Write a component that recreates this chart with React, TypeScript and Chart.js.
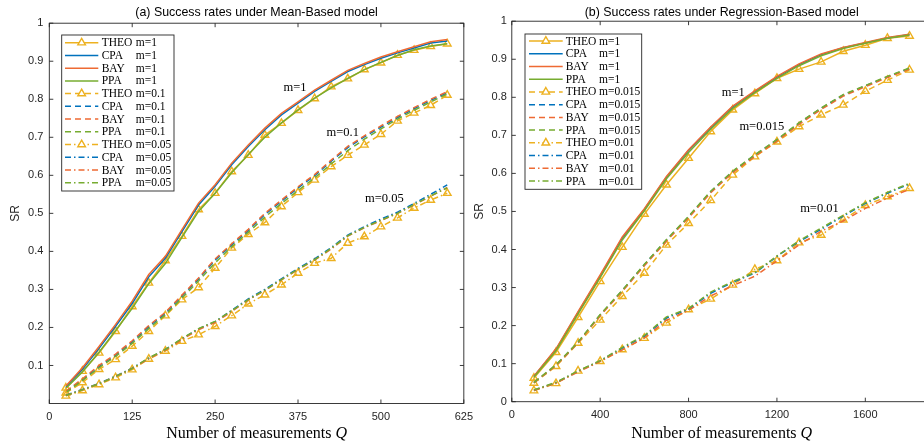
import React, { useEffect, useRef } from 'react';
import { Chart, registerables } from 'chart.js';
Chart.register(...registerables);

// ---------- data ----------
const leftQ = [25, 50, 75, 100, 125, 150, 175, 200, 225, 250, 275, 300, 325, 350, 375, 400, 425, 450, 475, 500, 525, 550, 575, 600];
const L1_THEO = [0.041, 0.085, 0.133, 0.19, 0.255, 0.317, 0.376, 0.44, 0.51, 0.553, 0.61, 0.653, 0.706, 0.737, 0.771, 0.802, 0.833, 0.854, 0.878, 0.896, 0.916, 0.929, 0.939, 0.946];
const L1_CPA = [0.044, 0.09, 0.145, 0.203, 0.263, 0.333, 0.382, 0.452, 0.522, 0.571, 0.628, 0.676, 0.72, 0.759, 0.79, 0.821, 0.847, 0.873, 0.891, 0.908, 0.922, 0.935, 0.948, 0.953];
const L1_BAY = [0.046, 0.094, 0.15, 0.208, 0.269, 0.339, 0.387, 0.457, 0.527, 0.575, 0.632, 0.68, 0.724, 0.763, 0.793, 0.824, 0.85, 0.876, 0.894, 0.911, 0.925, 0.938, 0.951, 0.957];
const L1_PPA = [0.04, 0.083, 0.135, 0.192, 0.25, 0.315, 0.368, 0.437, 0.505, 0.553, 0.607, 0.655, 0.7, 0.738, 0.772, 0.803, 0.83, 0.855, 0.878, 0.897, 0.915, 0.93, 0.94, 0.946];
const L01_THEO = [0.028, 0.055, 0.09, 0.116, 0.151, 0.19, 0.231, 0.273, 0.305, 0.356, 0.409, 0.445, 0.476, 0.518, 0.555, 0.588, 0.623, 0.653, 0.68, 0.708, 0.743, 0.764, 0.784, 0.811];
const L01_CPA = [0.03, 0.062, 0.097, 0.127, 0.162, 0.202, 0.237, 0.282, 0.327, 0.377, 0.417, 0.455, 0.497, 0.532, 0.567, 0.599, 0.637, 0.673, 0.701, 0.727, 0.752, 0.775, 0.797, 0.817];
const L01_BAY = [0.032, 0.065, 0.1, 0.13, 0.165, 0.205, 0.24, 0.285, 0.33, 0.38, 0.42, 0.458, 0.5, 0.535, 0.57, 0.602, 0.64, 0.676, 0.704, 0.73, 0.755, 0.778, 0.8, 0.82];
const L01_PPA = [0.029, 0.06, 0.094, 0.124, 0.158, 0.197, 0.233, 0.277, 0.322, 0.37, 0.412, 0.45, 0.49, 0.526, 0.56, 0.593, 0.63, 0.665, 0.695, 0.722, 0.748, 0.771, 0.793, 0.814];
const L005_THEO = [0.02, 0.034, 0.05, 0.068, 0.089, 0.117, 0.138, 0.164, 0.181, 0.203, 0.231, 0.262, 0.286, 0.312, 0.343, 0.369, 0.382, 0.422, 0.439, 0.465, 0.488, 0.514, 0.535, 0.553];
const L005_CPA = [0.022, 0.037, 0.053, 0.072, 0.093, 0.119, 0.142, 0.17, 0.196, 0.215, 0.245, 0.275, 0.3, 0.328, 0.355, 0.38, 0.41, 0.443, 0.465, 0.485, 0.503, 0.526, 0.55, 0.575];
const L005_BAY = [0.021, 0.036, 0.052, 0.071, 0.092, 0.118, 0.14, 0.168, 0.194, 0.213, 0.242, 0.272, 0.297, 0.325, 0.352, 0.377, 0.406, 0.44, 0.462, 0.481, 0.5, 0.522, 0.545, 0.568];
const L005_PPA = [0.021, 0.036, 0.052, 0.071, 0.092, 0.12, 0.142, 0.171, 0.197, 0.216, 0.244, 0.273, 0.298, 0.326, 0.353, 0.378, 0.408, 0.441, 0.463, 0.482, 0.5, 0.523, 0.546, 0.567];

const rightQ = [100, 200, 300, 400, 500, 600, 700, 800, 900, 1000, 1100, 1200, 1300, 1400, 1500, 1600, 1700, 1800];
const R1_THEO = [0.062, 0.13, 0.222, 0.316, 0.406, 0.493, 0.57, 0.64, 0.71, 0.767, 0.81, 0.85, 0.874, 0.893, 0.921, 0.937, 0.955, 0.961];
const R1_CPA = [0.066, 0.137, 0.235, 0.33, 0.43, 0.505, 0.59, 0.66, 0.72, 0.775, 0.815, 0.853, 0.886, 0.912, 0.93, 0.943, 0.956, 0.965];
const R1_BAY = [0.067, 0.139, 0.237, 0.333, 0.433, 0.507, 0.592, 0.662, 0.722, 0.777, 0.817, 0.855, 0.888, 0.914, 0.931, 0.944, 0.957, 0.966];
const R1_PPA = [0.064, 0.134, 0.231, 0.326, 0.425, 0.502, 0.586, 0.655, 0.716, 0.771, 0.812, 0.85, 0.883, 0.909, 0.928, 0.942, 0.955, 0.964];
const R015_THEO = [0.049, 0.093, 0.154, 0.215, 0.277, 0.338, 0.412, 0.469, 0.529, 0.596, 0.644, 0.683, 0.723, 0.754, 0.78, 0.816, 0.845, 0.872];
const R015_CPA = [0.05, 0.096, 0.156, 0.228, 0.292, 0.36, 0.425, 0.486, 0.552, 0.605, 0.648, 0.688, 0.732, 0.771, 0.806, 0.83, 0.854, 0.876];
const R015_BAY = [0.05, 0.095, 0.155, 0.226, 0.29, 0.357, 0.422, 0.483, 0.549, 0.602, 0.645, 0.685, 0.729, 0.768, 0.803, 0.828, 0.852, 0.874];
const R015_PPA = [0.051, 0.097, 0.157, 0.229, 0.293, 0.361, 0.426, 0.487, 0.553, 0.606, 0.649, 0.689, 0.733, 0.772, 0.807, 0.831, 0.855, 0.877];
const R01_THEO = [0.029, 0.048, 0.081, 0.106, 0.137, 0.167, 0.207, 0.242, 0.27, 0.307, 0.348, 0.371, 0.418, 0.438, 0.478, 0.516, 0.539, 0.561];
const R01_CPA = [0.03, 0.05, 0.08, 0.107, 0.141, 0.172, 0.22, 0.243, 0.285, 0.314, 0.338, 0.382, 0.421, 0.453, 0.488, 0.521, 0.548, 0.572];
const R01_BAY = [0.03, 0.049, 0.078, 0.106, 0.136, 0.168, 0.214, 0.24, 0.278, 0.305, 0.33, 0.37, 0.412, 0.448, 0.475, 0.508, 0.535, 0.558];
const R01_PPA = [0.031, 0.051, 0.081, 0.108, 0.143, 0.174, 0.223, 0.245, 0.288, 0.316, 0.34, 0.383, 0.423, 0.456, 0.49, 0.523, 0.55, 0.574];

const leftXTicks = [0, 125, 250, 375, 500, 625];
const leftYTicks = [0.1, 0.2, 0.3, 0.4, 0.5, 0.6, 0.7, 0.8, 0.9, 1];
const rightXTicks = [0, 400, 800, 1200, 1600];
const rightYTicks = [0, 0.1, 0.2, 0.3, 0.4, 0.5, 0.6, 0.7, 0.8, 0.9, 1];

const leftTitle = '(a) Success rates under Mean-Based model';
const rightTitle = '(b) Success rates under Regression-Based model';
const xTitle = 'Number of measurements ';
const xTitleVar = 'Q';
const yTitle = 'SR';
const methods = ['THEO', 'CPA', 'BAY', 'PPA'];
const leftMs = ['1', '0.1', '0.05'];
const rightMs = ['1', '0.015', '0.01'];
const leftAnnot = [
  { text: 'm=1', q: 353, v: 0.831 },
  { text: 'm=0.1', q: 418, v: 0.713 },
  { text: 'm=0.05', q: 476, v: 0.538 },
];
const rightAnnot = [
  { text: 'm=1', q: 950, v: 0.813 },
  { text: 'm=0.015', q: 1030, v: 0.723 },
  { text: 'm=0.01', q: 1305, v: 0.506 },
];

// ---------- styles ----------
const COLORS: Record<string, string> = { THEO: '#EDB120', CPA: '#0072BD', BAY: '#EE6A33', PPA: '#77AC30' };
const DASHES = [[], [6, 4], [6, 3, 1.5, 3]];
const SANS = '"Liberation Sans", Arial, Helvetica, sans-serif';
const SERIF = '"Liberation Serif", "Times New Roman", serif';
const AXIS = '#262626';

function buildDatasets(Q: number[], groups: number[][][], ms: string[]) {
  const out: any[] = [];
  let idx = 0;
  groups.forEach((g, gi) => {
    g.forEach((vals, mi) => {
      const name = methods[mi];
      const theo = name === 'THEO';
      out.push({
        label: `${name} m=${ms[gi]}`,
        _name: name,
        _m: `m=${ms[gi]}`,
        data: Q.map((q, i) => ({ x: q, y: vals[i] })),
        borderColor: COLORS[name],
        backgroundColor: COLORS[name],
        borderWidth: 1.5,
        borderDash: DASHES[gi],
        pointStyle: 'triangle',
        pointRadius: theo ? 4.4 : 0,
        pointBorderColor: COLORS[name],
        pointBackgroundColor: 'rgba(255,255,255,0)',
        pointBorderWidth: 1.4,
        tension: 0,
        fill: false,
        order: -idx,
      });
      idx++;
    });
  });
  return out;
}

type Cfg = {
  W: number; H: number;
  area: { left: number; right: number; top: number; bottom: number };
  xMax: number; yMin: number;
  xTicks: number[]; yTicks: number[];
  title: string;
  yTitleX: number;
  annot: { text: string; q: number; v: number }[];
  legend: { left: number; top: number; right: number; bottom: number; first: number; step: number; l1: number; l2: number; tx: number; mx: number };
  datasets: any[];
  yPad: number;
};

function tri(ctx: CanvasRenderingContext2D, x: number, y: number, r: number) {
  ctx.beginPath();
  ctx.moveTo(x, y - r);
  ctx.lineTo(x + Math.sin((2 * Math.PI) / 3) * r, y + 0.5 * r);
  ctx.lineTo(x - Math.sin((2 * Math.PI) / 3) * r, y + 0.5 * r);
  ctx.closePath();
}

function makeDecor(cfg: Cfg) {
  return {
    id: 'decor',
    afterDraw(chart: any) {
      const { ctx, chartArea: a } = chart;
      const xs = chart.scales.x;
      const ys = chart.scales.y;
      ctx.save();
      // box
      ctx.strokeStyle = AXIS;
      ctx.lineWidth = 0.9;
      ctx.setLineDash([]);
      ctx.strokeRect(a.left, a.top, a.right - a.left, a.bottom - a.top);
      // inward ticks
      ctx.beginPath();
      for (const t of xs.ticks) {
        const px = xs.getPixelForValue(t.value);
        ctx.moveTo(px, a.bottom); ctx.lineTo(px, a.bottom - 4);
        ctx.moveTo(px, a.top); ctx.lineTo(px, a.top + 4);
      }
      for (const t of ys.ticks) {
        const py = ys.getPixelForValue(t.value);
        ctx.moveTo(a.left, py); ctx.lineTo(a.left + 4, py);
        ctx.moveTo(a.right, py); ctx.lineTo(a.right - 4, py);
      }
      ctx.stroke();
      // title
      const cx = (a.left + a.right) / 2;
      ctx.fillStyle = '#000';
      ctx.font = `12.4px ${SANS}`;
      ctx.textAlign = 'center';
      ctx.textBaseline = 'middle';
      ctx.fillText(cfg.title, cx, 12.5);
      // x title
      ctx.font = `16px ${SERIF}`;
      const w1 = ctx.measureText(xTitle).width;
      ctx.font = `italic 16px ${SERIF}`;
      const w2 = ctx.measureText(xTitleVar).width;
      const sx = cx - (w1 + w2) / 2;
      ctx.textAlign = 'left';
      ctx.font = `16px ${SERIF}`;
      ctx.fillText(xTitle, sx, 434);
      ctx.font = `italic 16px ${SERIF}`;
      ctx.fillText(xTitleVar, sx + w1, 434);
      // y title
      ctx.save();
      ctx.translate(cfg.yTitleX, (a.top + a.bottom) / 2);
      ctx.rotate(-Math.PI / 2);
      ctx.textAlign = 'center';
      ctx.font = `12px ${SANS}`;
      ctx.fillStyle = AXIS;
      ctx.fillText(yTitle, 0, 0);
      ctx.restore();
      // annotations
      ctx.fillStyle = '#000';
      ctx.font = `12.5px ${SERIF}`;
      ctx.textAlign = 'left';
      for (const an of cfg.annot) {
        ctx.fillText(an.text, xs.getPixelForValue(an.q), ys.getPixelForValue(an.v));
      }
      // legend
      const L = cfg.legend;
      ctx.fillStyle = '#fff';
      ctx.fillRect(L.left, L.top, L.right - L.left, L.bottom - L.top);
      ctx.strokeStyle = AXIS;
      ctx.lineWidth = 0.9;
      ctx.strokeRect(L.left, L.top, L.right - L.left, L.bottom - L.top);
      ctx.font = `11.5px ${SERIF}`;
      chart.data.datasets.forEach((ds: any, i: number) => {
        const yy = L.first + i * L.step;
        ctx.strokeStyle = ds.borderColor;
        ctx.lineWidth = ds.borderWidth;
        ctx.setLineDash(ds.borderDash);
        ctx.beginPath();
        ctx.moveTo(L.l1, yy);
        ctx.lineTo(L.l2, yy);
        ctx.stroke();
        ctx.setLineDash([]);
        if (ds.pointRadius > 0) {
          ctx.lineWidth = ds.pointBorderWidth;
          tri(ctx, (L.l1 + L.l2) / 2, yy, ds.pointRadius);
          ctx.fillStyle = '#fff';
          ctx.fill();
          ctx.stroke();
        }
        ctx.fillStyle = '#000';
        ctx.fillText(ds._name, L.tx, yy + 0.5);
        ctx.fillText(ds._m, L.mx, yy + 0.5);
      });
      ctx.restore();
    },
  };
}

function makeChart(canvas: HTMLCanvasElement, cfg: Cfg) {
  const { W, H, area } = cfg;
  return new Chart(canvas, {
    type: 'line',
    data: { datasets: cfg.datasets },
    options: {
      animation: false,
      responsive: false,
      maintainAspectRatio: false,
      devicePixelRatio: 1,
      events: [],
      layout: { padding: { left: 0, right: W - area.right, top: area.top, bottom: 0 } },
      plugins: { legend: { display: false }, tooltip: { enabled: false }, title: { display: false } },
      scales: {
        x: {
          type: 'linear',
          min: 0,
          max: cfg.xMax,
          grid: { display: false, drawTicks: false },
          border: { display: false },
          ticks: { autoSkip: false, maxRotation: 0, padding: 7, color: AXIS, font: { family: SANS, size: 11 }, callback: (v: any) => String(v) },
          afterBuildTicks: (s: any) => { s.ticks = cfg.xTicks.map((v) => ({ value: v })); },
          afterFit: (s: any) => { s.height = H - area.bottom; },
        },
        y: {
          type: 'linear',
          min: cfg.yMin,
          max: 1,
          grid: { display: false, drawTicks: false },
          border: { display: false },
          ticks: { autoSkip: false, padding: cfg.yPad, color: AXIS, font: { family: SANS, size: 11 }, callback: (v: any) => String(Math.round(v * 100) / 100) },
          afterBuildTicks: (s: any) => { s.ticks = cfg.yTicks.map((v) => ({ value: v })); },
          afterFit: (s: any) => { s.width = area.left; },
        },
      },
    } as any,
    plugins: [makeDecor(cfg)],
  });
}

export default function App() {
  const leftRef = useRef<HTMLCanvasElement>(null);
  const rightRef = useRef<HTMLCanvasElement>(null);

  useEffect(() => {
    const left = makeChart(leftRef.current!, {
      W: 480, H: 447,
      area: { left: 49.3, right: 470, top: 23.2, bottom: 403.5 },
      xMax: 625, yMin: 0,
      xTicks: leftXTicks, yTicks: leftYTicks,
      title: leftTitle,
      yTitleX: 16,
      annot: leftAnnot,
      legend: { left: 61.7, top: 35, right: 174, bottom: 191, first: 42.7, step: 12.73, l1: 65, l2: 98.3, tx: 101.7, mx: 135.7 },
      datasets: buildDatasets(leftQ, [
        [L1_THEO, L1_CPA, L1_BAY, L1_PPA],
        [L01_THEO, L01_CPA, L01_BAY, L01_PPA],
        [L005_THEO, L005_CPA, L005_BAY, L005_PPA],
      ], leftMs),
      yPad: 6,
    });
    const right = makeChart(rightRef.current!, {
      W: 480, H: 447,
      area: { left: 49.8, right: 469.6, top: 21.2, bottom: 401.7 },
      xMax: 1900, yMin: 0,
      xTicks: rightXTicks, yTicks: rightYTicks,
      title: rightTitle,
      yTitleX: 18,
      annot: rightAnnot,
      legend: { left: 63, top: 34, right: 179.7, bottom: 189.3, first: 41, step: 12.73, l1: 67, l2: 100.7, tx: 103.7, mx: 137 },
      datasets: buildDatasets(rightQ, [
        [R1_THEO, R1_CPA, R1_BAY, R1_PPA],
        [R015_THEO, R015_CPA, R015_BAY, R015_PPA],
        [R01_THEO, R01_CPA, R01_BAY, R01_PPA],
      ], rightMs),
      yPad: 5,
    });
    return () => { left.destroy(); right.destroy(); };
  }, []);

  return (
    <div style={{ position: 'absolute', left: 0, top: 0, width: 924, height: 447, overflow: 'hidden', background: '#fff' }}>
      <canvas ref={leftRef} width={480} height={447} style={{ position: 'absolute', left: 0, top: 0 }} />
      <canvas ref={rightRef} width={480} height={447} style={{ position: 'absolute', left: 462, top: 0 }} />
    </div>
  );
}
